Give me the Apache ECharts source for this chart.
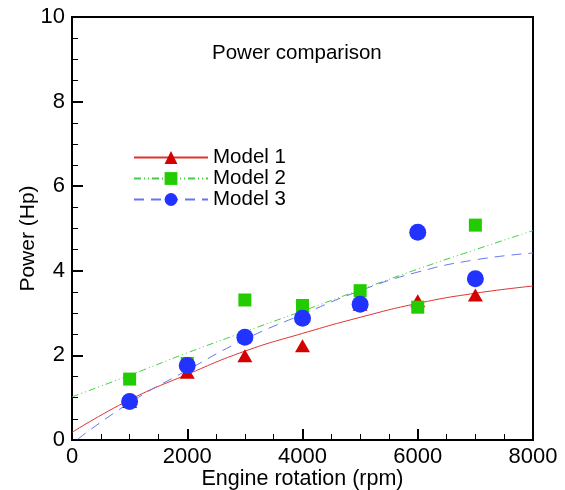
<!DOCTYPE html>
<html>
<head>
<meta charset="utf-8">
<style>
    html, body { margin: 0; padding: 0; background: #fff; }
    #chart { width: 565px; height: 490px; }
</style>
<script src="https://cdn.jsdelivr.net/npm/echarts@6/dist/echarts.min.js"></script>
</head>
<body>
<div id="chart"></div>
<script>
    // measured points (rpm)
    var rpm = [1000, 2000, 3000, 4000, 5000, 6000, 7000];
    var model1 = [0.91, 1.6, 1.99, 2.23, 3.21, 3.29, 3.43];
    var model2 = [1.44, 1.81, 3.31, 3.18, 3.53, 3.14, 5.08];
    var model3 = [0.91, 1.76, 2.43, 2.88, 3.21, 4.91, 3.81];

    // fitted curves
    var fitRpm = [0, 1000, 2000, 3000, 4000, 5000, 6000, 7000, 8000];
    var fit1 = [0.18, 0.95, 1.55, 2.1, 2.52, 2.9, 3.23, 3.47, 3.64];
    var fit2 = [1.02, 1.53, 2.06, 2.56, 3.05, 3.55, 4.04, 4.5, 4.95];
    var fit3Rpm = [100, 1000, 2000, 3000, 4000, 5000, 6000, 7000, 8000];
    var fit3 = [0.02, 0.88, 1.65, 2.38, 2.97, 3.53, 3.97, 4.26, 4.42];

    var names = ['Model 1', 'Model 2', 'Model 3'];
    var colors = ['#d40000', '#22cc00', '#2233ff'];
    var lineColors = ['#dd3333', '#44cc44', '#6677ee'];

    function pairs(xs, ys) {
        return xs.map(function(x, i) { return [x, ys[i]]; });
    }

    var myChart = echarts.init(document.getElementById('chart'));
    var font = 'Liberation Sans, Arial, sans-serif';

    var option = {
        animation: false,
        backgroundColor: '#fff',
        title: {
            text: 'Power comparison',
            left: 207,
            top: 38,
            textStyle: { fontFamily: font, fontSize: 20.5, fontWeight: 'normal', color: '#000' }
        },
        legend: {
            orient: 'vertical',
            left: 133,
            top: 147,
            padding: 0,
            itemWidth: 74,
            itemHeight: 16,
            itemGap: 0,
            data: names,
            textStyle: { fontFamily: font, fontSize: 20.5, lineHeight: 20, color: '#000' }
        },
        grid: {
            left: 72, right: 32, top: 17, bottom: 50,
            outerBoundsMode: 'none',
            containLabel: false,
            show: true,
            borderColor: '#000',
            borderWidth: 2,
            backgroundColor: 'transparent'
        },
        xAxis: {
            type: 'value',
            min: 0, max: 8000, interval: 2000,
            name: 'Engine rotation (rpm)',
            nameLocation: 'middle',
            nameMoveOverlap: false,
            nameGap: 28,
            nameTextStyle: { fontFamily: font, fontSize: 21.5, color: '#000' },
            axisLine: { show: true, lineStyle: { color: '#000', width: 2 } },
            axisTick: { inside: true, length: 11, lineStyle: { color: '#000', width: 2 } },
            minorTick: { show: true, splitNumber: 4, length: 6, lineStyle: { color: '#000', width: 1 } },
            splitLine: { show: false },
            axisLabel: {
                fontFamily: font, fontSize: 22, color: '#000', margin: 6,
                formatter: function(v) { return String(v); }
            }
        },
        yAxis: {
            type: 'value',
            min: 0, max: 10, interval: 2,
            name: 'Power (Hp)',
            nameLocation: 'middle',
            nameMoveOverlap: false,
            nameGap: 33,
            nameTextStyle: { fontFamily: font, fontSize: 21, color: '#000', padding: [0, 20, 0, 0] },
            axisLine: { show: true, lineStyle: { color: '#000', width: 2 } },
            axisTick: { inside: true, length: 11, lineStyle: { color: '#000', width: 2 } },
            minorTick: { show: true, splitNumber: 4, length: 6, lineStyle: { color: '#000', width: 1 } },
            splitLine: { show: false },
            axisLabel: { fontFamily: font, fontSize: 22, color: '#000', margin: 7 }
        },
        series: [
            {
                name: names[0], type: 'line', smooth: true, showSymbol: false,
                symbol: 'triangle', itemStyle: { color: colors[0] },
                lineStyle: { color: lineColors[0], width: 1 },
                data: pairs(fitRpm, fit1), z: 2
            },
            {
                name: names[1], type: 'line', smooth: true, showSymbol: false,
                symbol: 'rect', itemStyle: { color: colors[1] },
                lineStyle: { color: lineColors[1], width: 1, type: [7, 3, 1, 3, 1, 3] },
                data: pairs(fitRpm, fit2), z: 2
            },
            {
                name: names[2], type: 'line', smooth: true, showSymbol: false,
                symbol: 'circle', itemStyle: { color: colors[2] },
                lineStyle: { color: lineColors[2], width: 1, type: [10, 7] },
                data: pairs(fit3Rpm, fit3), z: 2
            },
            {
                name: names[0], type: 'scatter', symbol: 'triangle', symbolSize: [15, 13],
                itemStyle: { color: colors[0], opacity: 1 }, data: pairs(rpm, model1), z: 3
            },
            {
                name: names[1], type: 'scatter', symbol: 'rect', symbolSize: 13,
                itemStyle: { color: colors[1], opacity: 1 }, data: pairs(rpm, model2), z: 4
            },
            {
                name: names[2], type: 'scatter', symbol: 'circle', symbolSize: 17,
                itemStyle: { color: colors[2], opacity: 1 }, data: pairs(rpm, model3), z: 5
            }
        ]
    };
    myChart.setOption(option);
</script>
</body>
</html>
